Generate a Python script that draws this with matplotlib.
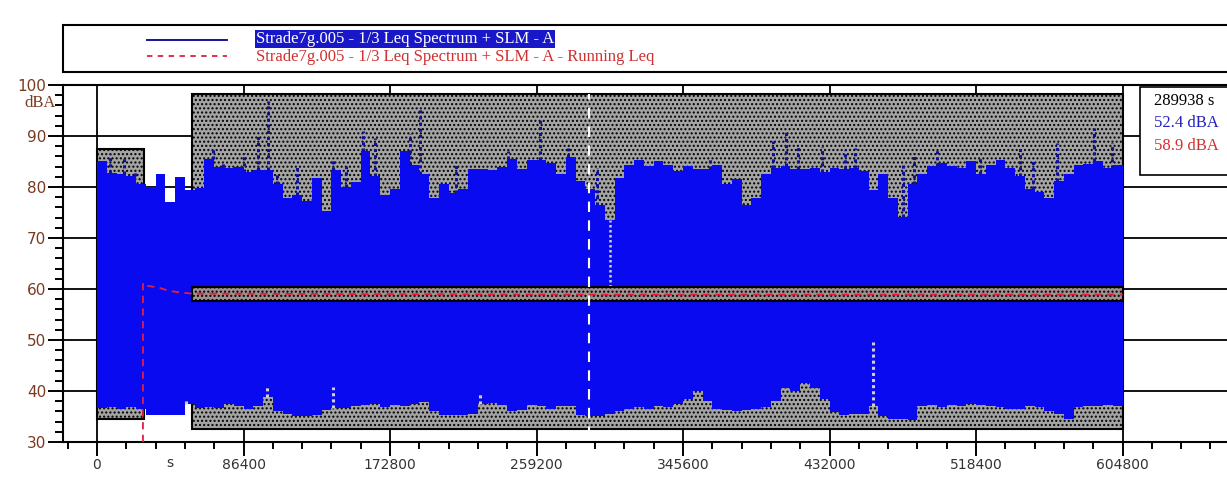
import numpy as np
import matplotlib
matplotlib.use("Agg")
from matplotlib import pyplot as plt
from matplotlib.patches import Rectangle

# time step of the level record (s) and envelope values
step = 5760
top_body = [85.0, 82.7, 82.5, 82.1, 80.5, 80.0, 82.5, 77.0, 82.0, 79.5,
            79.8, 85.4, 84.0, 83.7, 83.9, 83.0, 83.3, 83.3, 80.5, 77.8,
            78.4, 77.2, 81.8, 75.3, 83.3, 80.0, 81.0, 87.0, 82.1, 78.4,
            79.7, 87.0, 84.3, 82.5, 77.8, 80.5, 78.8, 79.7, 83.6, 83.6,
            83.3, 83.9, 85.5, 83.6, 85.2, 85.2, 84.8, 82.5, 85.8, 81.2,
            79.7, 76.5, 73.5, 81.8, 84.3, 85.3, 84.1, 85.0, 84.3, 83.1,
            84.1, 83.5, 83.5, 84.3, 80.5, 81.5, 76.5, 77.9, 82.5, 83.8,
            84.1, 83.5, 83.5, 83.8, 82.9, 83.8, 83.5, 83.8, 83.1, 79.5,
            82.5, 77.8, 74.2, 80.5, 82.5, 84.1, 84.8, 84.1, 83.8, 85.1,
            82.5, 84.3, 85.3, 83.8, 82.2, 79.7, 79.1, 77.8, 81.2, 82.5,
            84.3, 84.6, 85.0, 83.8, 84.3, 83.5]
bottom_body = [36.6, 36.8, 36.5, 36.8, 36.5, 35.3, 35.3, 35.2, 35.3, 37.5,
               36.6, 36.8, 36.7, 37.4, 37.0, 36.5, 37.0, 38.8, 36.0, 35.5,
               35.0, 35.0, 35.2, 36.2, 36.6, 36.6, 37.0, 37.2, 37.5, 36.8,
               37.2, 37.0, 37.5, 37.8, 36.0, 35.3, 35.2, 35.3, 35.5, 37.5,
               37.6, 37.2, 36.0, 36.2, 37.2, 37.0, 36.5, 37.0, 37.0, 35.2,
               35.0, 35.0, 35.5, 36.0, 36.5, 36.8, 36.5, 37.0, 36.8, 37.5,
               38.5, 40.0, 38.0, 36.5, 36.2, 36.0, 36.2, 36.5, 36.8, 38.0,
               40.5, 40.0, 41.5, 40.5, 38.5, 35.8, 35.3, 35.5, 35.5, 37.0,
               35.0, 34.5, 34.5, 34.4, 37.0, 37.2, 36.8, 37.3, 37.0, 37.5,
               37.2, 37.0, 36.8, 36.5, 36.5, 37.0, 36.8, 36.0, 35.5, 34.5,
               36.8, 37.0, 37.0, 37.2, 37.0, 37.0]

# single max peaks above the body (s, dBA)
peak_t = [7670, 16100, 22400, 68600, 74500, 86700, 95150, 100650, 106000, 118150,
          139360, 146650, 157060, 163950, 184600, 190500, 211700, 242600, 261300, 278000,
          294700, 361500, 398900, 406350, 413600, 427400, 441100, 447000, 475500, 482000,
          495200, 520800, 544300, 552200, 566000, 588200, 598400]
peak_v = [86.4, 86.0, 83.1, 87.6, 84.7, 86.7, 90.3, 96.8, 82.7, 84.0,
          85.3, 84.1, 90.9, 89.6, 90.3, 95.2, 84.6, 87.0, 93.2, 87.6,
          83.7, 85.9, 89.0, 91.2, 88.2, 87.8, 87.3, 87.6, 84.7, 86.7,
          87.4, 86.0, 88.0, 85.4, 88.6, 91.6, 88.6]
# single min peaks above the lower edge
low_t = [52490, 100080, 139360, 225880, 457650]
low_v = [38.2, 41.2, 40.8, 39.6, 49.7]
# gap in the level at one instant
gap_t = [302500]
gap_v = [60.3]

# running Leq
leq_t = [27100, 27100, 30000, 36000, 43000, 50000, 56000, 150000, 290000, 450000, 604800]
leq_v = [30.0, 61.2, 60.6, 60.3, 59.6, 59.3, 59.1, 59.0, 58.9, 58.9, 58.9]

# excluded / marked ranges: (start, end, low, high)
marked = [(0, 27700, 34.5, 87.5), (55800, 604800, 32.5, 98.2)]
band = (55800, 604800, 57.7, 60.3)

cursor_t = 289938
cursor_vals = ["289938 s", "52.4 dBA", "58.9 dBA"]

W, H = 1227, 479
fig = plt.figure(figsize=(W / 100, H / 100), dpi=100)
fig.patch.set_facecolor("white")

def fx(px):
  return px / W

def fy(py):
  return 1 - py / H

ax = fig.add_axes([fx(63), fy(442), fx(1227 - 63), (442 - 85) / H])
ax.set_xlim(-20050, 666400)
ax.set_ylim(30, 100)

blue = "#0a0af0"
t = np.arange(len(top_body)) * step
top = np.array(top_body)
bot = np.array(bottom_body)

for x0, x1, y0, y1 in marked:
  ax.add_patch(Rectangle((x0, y0), x1 - x0, y1 - y0, facecolor="#a4a4a4",
                         edgecolor="black", hatch="....", lw=1.5, zorder=1))

ax.fill_between(t, bot, top, step="post", color=blue, lw=0, zorder=2)

dots = (0, (1, 1))
idx = np.clip(np.searchsorted(t, peak_t, side="right") - 1, 0, len(t) - 1)
ax.vlines(peak_t, top[idx], peak_v, colors="#10109a", linestyles=dots, lw=2.2, zorder=3)
idx = np.clip(np.searchsorted(t, low_t, side="right") - 1, 0, len(t) - 1)
ax.vlines(low_t, bot[idx], low_v, colors="#d0d0d0", linestyles=dots, lw=2.2, zorder=3)
idx = np.clip(np.searchsorted(t, gap_t, side="right") - 1, 0, len(t) - 1)
ax.vlines(gap_t, gap_v, top[idx], colors="#d0d0d0", linestyles=dots, lw=1.8, zorder=3)

bx0, bx1, by0, by1 = band
ax.add_patch(Rectangle((bx0, by0), bx1 - bx0, by1 - by0, facecolor="#a09290",
                       edgecolor="black", hatch="....", lw=1.5, zorder=4))

ax.plot(leq_t, leq_v, color="#e02040", ls=(0, (4, 3)), lw=1.3, zorder=5)

ax.vlines([cursor_t], 31, 98.2, colors="white", linestyles=(0, (5, 4)), lw=1.5, zorder=6)

# axes look
ax.grid(True, which="major", color="black", lw=1.3, zorder=0)
ax.set_axisbelow(True)
ax.set_xticks(np.arange(0, 604801, 86400))
ax.set_xticks(np.arange(-17280, 666400, 17280), minor=True)
ax.set_yticks(np.arange(30, 101, 10))
ax.set_yticks(np.arange(30, 101, 2), minor=True)
ax.tick_params(axis="x", which="major", length=10, width=1.4, direction="out")
ax.tick_params(axis="x", which="minor", length=5, width=1.4, direction="out")
ax.tick_params(axis="y", which="major", length=11, width=1.4, direction="out")
ax.tick_params(axis="y", which="minor", length=5.5, width=1.4, direction="out")
ax.tick_params(axis="x", labelsize=10, labelcolor="#333333", pad=1.5)
ax.tick_params(axis="y", labelsize=11, labelcolor="#7a3a20", pad=1)
ax.spines["right"].set_visible(False)
for s in ["left", "bottom", "top"]:
  ax.spines[s].set_linewidth(1.5)

fig.text(fx(40), fy(103), "dBA", fontsize=12, color="#7a3a20", ha="center", va="center",
         family="Liberation Serif")
fig.text(fx(170), fy(463), "s", fontsize=10, color="#333333", ha="center", va="center")

# cursor readout box
fig.patches.append(Rectangle((fx(1140), fy(175)), fx(100), (175 - 87) / H,
                             transform=fig.transFigure, facecolor="white",
                             edgecolor="black", lw=1.2, zorder=10))
for txt, col, py in zip(cursor_vals, ["black", "#2020c0", "#d03030"], [101, 123, 146]):
  fig.text(fx(1154), fy(py), txt, fontsize=12, color=col, va="center",
           family="Liberation Serif", zorder=11)

# legend box
fig.patches.append(Rectangle((fx(63), fy(72)), fx(1180), (72 - 25) / H,
                             transform=fig.transFigure, facecolor="white",
                             edgecolor="black", lw=1.5))
fig.lines.append(plt.Line2D([fx(147), fx(227)], [fy(40), fy(40)],
                            transform=fig.transFigure, color="#000090", lw=1.3))
fig.lines.append(plt.Line2D([fx(147), fx(227)], [fy(56), fy(56)],
                            transform=fig.transFigure, color="#e02040", lw=1.3,
                            ls=(0, (3, 3))))
fig.text(fx(256), fy(39), "Strade7g.005 - 1/3 Leq Spectrum + SLM - A", fontsize=12,
         color="white", va="center", family="Liberation Serif",
         bbox=dict(facecolor="#1818c8", edgecolor="none", pad=0.8))
fig.text(fx(256), fy(57), "Strade7g.005 - 1/3 Leq Spectrum + SLM - A - Running Leq",
         fontsize=12, color="#d03030", va="center", family="Liberation Serif")

fig.savefig("out.png", dpi=100)
